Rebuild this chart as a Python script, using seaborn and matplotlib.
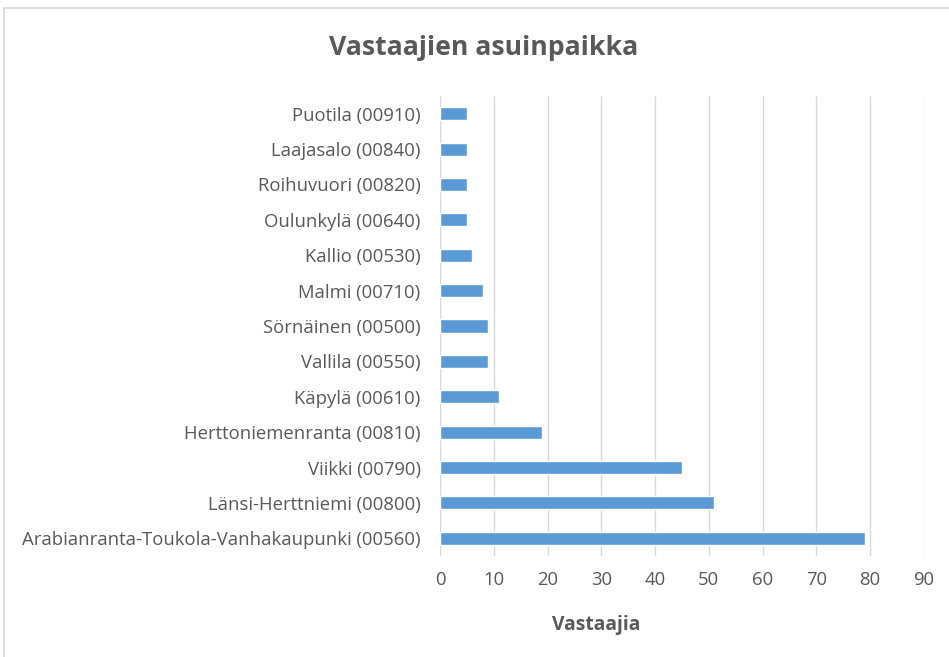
import matplotlib
matplotlib.use("Agg")
import matplotlib.pyplot as plt
import seaborn as sns
import pandas as pd
from matplotlib.lines import Line2D

categories = [
    "Puotila (00910)",
    "Laajasalo (00840)",
    "Roihuvuori (00820)",
    "Oulunkylä (00640)",
    "Kallio (00530)",
    "Malmi (00710)",
    "Sörnäinen (00500)",
    "Vallila (00550)",
    "Käpylä (00610)",
    "Herttoniemenranta (00810)",
    "Viikki (00790)",
    "Länsi-Herttniemi (00800)",
    "Arabianranta-Toukola-Vanhakaupunki (00560)",
]
values = [5, 5, 5, 5, 6, 8, 9, 9, 11, 19, 45, 51, 79]
x_ticks = [0, 10, 20, 30, 40, 50, 60, 70, 80, 90]

title = "Vastaajien asuinpaikka"
x_title = "Vastaajia"

df = pd.DataFrame({"Alue": categories, "Vastaajia": values})

sns.set_theme(style="white")
plt.rcParams["font.family"] = ["Open Sans", "DejaVu Sans"]

text_color = "#595959"
fig = plt.figure(figsize=(9.49, 6.57), dpi=100)
ax = fig.add_axes([440 / 949, 101 / 657, 483.75 / 949, 460 / 657])

sns.barplot(data=df, y="Alue", x="Vastaajia", order=categories, color="#5b9bd5",
            width=0.37, saturation=1, ax=ax, orient="h")

ax.set_xlim(0, 90)
ax.set_xticks(x_ticks)
ax.xaxis.grid(True, color="#d9d9d9", linewidth=1)
ax.set_axisbelow(True)
for s in ax.spines.values():
    s.set_visible(False)
ax.set_xlabel("")
ax.set_ylabel("")
ax.tick_params(axis="x", length=0, pad=11, labelsize=13.3, colors=text_color)
ax.tick_params(axis="y", length=0, pad=14, labelsize=13.3, colors=text_color)

fig.text(484 / 949, 1 - 48 / 657, title, ha="center", va="center",
         fontsize=19.2, fontweight="bold", color=text_color)
fig.text(596 / 949, 1 - 625 / 657, x_title, ha="center", va="center",
         fontsize=13.9, fontweight="bold", color=text_color)

# chart-area border (top and left)
fig.add_artist(Line2D([4 / 949, 1], [1 - 8 / 657, 1 - 8 / 657], transform=fig.transFigure,
                      color="#d9d9d9", linewidth=1.2))
fig.add_artist(Line2D([4 / 949, 4 / 949], [0, 1 - 8 / 657], transform=fig.transFigure,
                      color="#d9d9d9", linewidth=1.2))

fig.savefig("out.png", dpi=100)
